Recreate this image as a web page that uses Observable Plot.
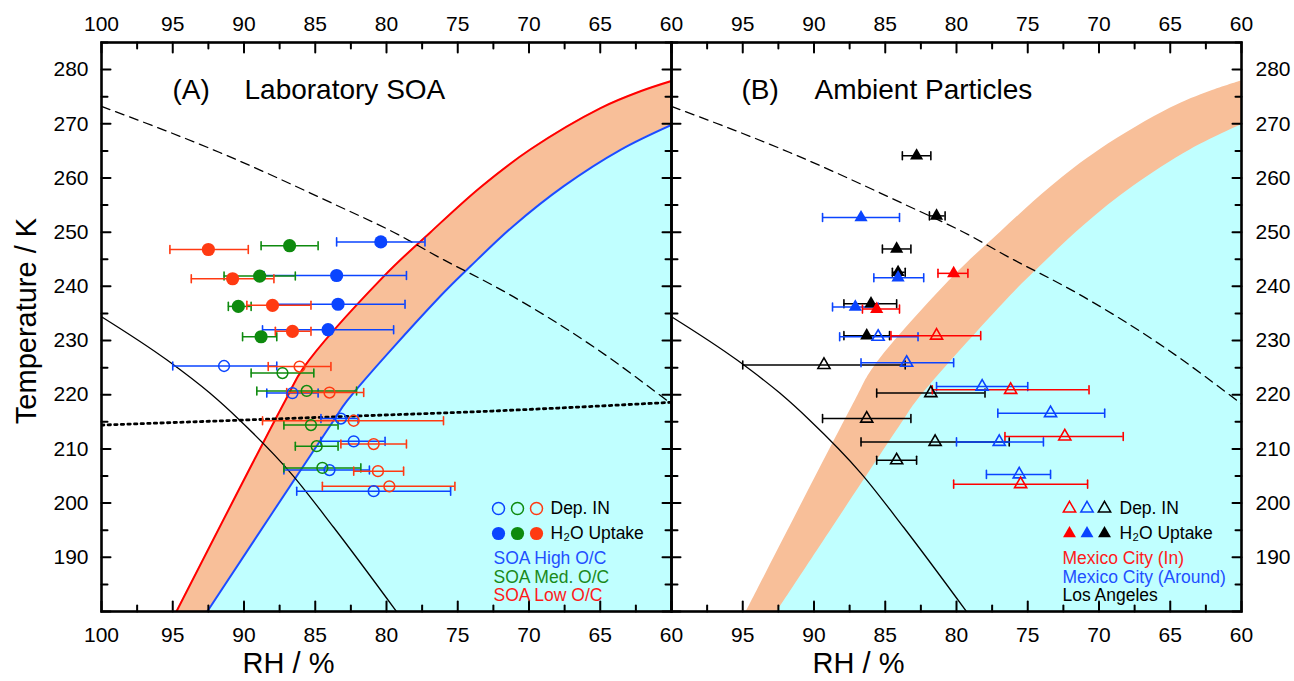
<!DOCTYPE html>
<html><head><meta charset="utf-8">
<script src="https://cdn.jsdelivr.net/npm/d3@7"></script>
<script src="https://cdn.jsdelivr.net/npm/@observablehq/plot@0.6"></script>
<style>
html,body{margin:0;padding:0;background:#fff;}
#chart{width:1294px;height:681px;}
</style></head><body><div id="chart"></div>
<script>
// ---------- curves: [RH %, T K] ----------
const redCurve   = [[94.74,180],[87.09,219.0],[85.82,225.0],[80.21,241.8],[76.91,250.0],[73.40,258.3],[69.89,265.3],[64.98,272.9],[62.18,276.0],[60.0,277.9]];
const blueCurve  = [[92.58,180],[83.70,215.3],[82.76,218.9],[76.33,237.9],[74.11,243.7],[71.07,251.2],[67.56,258.5],[63.58,265.2],[60.0,269.8]];
const iceSatCurve = [[100,273.2],[91.7,264.7],[83.7,255.2],[79.0,249.3],[76.9,246.2],[71.1,238.1],[65.5,228.9],[60,218.3]];
const homFreezeCurve = [[100,234.4],[95.4,226.4],[92.4,220.3],[90.3,215.3],[86.7,205.5],[83.7,195.5],[79.3,180]];
const dottedCurve = [[100,214.4],[81.8,216.1],[73.4,216.9],[60,218.6]];

// ---------- Panel A: laboratory SOA  [RH, T, errLeft(RH), errRight(RH)] ----------
const soaHighUptake = [[80.4,248.2,83.5,77.3],[83.5,242.0,88.6,78.6],[83.4,236.7,88.0,78.7],[84.1,232.0,88.7,79.5]];
const soaMedUptake  = [[86.8,247.5,88.8,84.8],[88.9,241.9,91.4,86.4],[90.4,236.3,91.1,89.5],[88.8,230.7,90.1,87.7]];
const soaLowUptake  = [[92.5,246.8,95.2,89.7],[90.8,241.4,93.7,87.9],[88.0,236.5,89.8,85.3],[86.6,231.7,87.8,85.3]];
const soaHighDepIN  = [[91.4,225.3,95.0,87.7],[86.6,220.3,88.4,84.8],[83.2,215.6,84.6,82.0],[82.3,211.4,84.6,80.1],[84.0,206.1,87.2,81.2],[80.9,202.2,86.3,75.5]];
const soaMedDepIN   = [[87.3,224.0,89.5,85.1],[85.6,220.7,89.1,82.1],[85.3,214.4,87.2,83.4],[84.9,210.5,86.4,83.4],[84.5,206.5,87.2,81.8]];
const soaLowDepIN   = [[86.1,225.2,88.3,83.9],[84.0,220.4,87.0,81.6],[82.3,215.2,88.7,76.0],[80.9,210.9,83.2,78.6],[80.6,205.9,82.3,78.8],[79.8,203.1,84.5,75.2]];

// ---------- Panel B: ambient particles ----------
const laUptake      = [[82.8,264.1,83.8,81.8],[81.4,253.0,81.9,80.8],[84.2,246.9,85.2,83.2],[84.1,242.6,84.5,83.6],[86.0,236.8,87.9,84.2],[86.3,230.9,87.9,84.7]];
const mcAroundUptake= [[86.7,252.7,89.4,84.0],[84.1,241.6,85.8,82.3],[87.1,236.2,88.7,85.5]];
const mcInUptake    = [[80.2,242.4,81.3,79.2],[85.6,235.8,86.6,84.0]];
const laDepIN       = [[89.3,225.5,95.0,83.6],[81.8,220.3,85.6,78.0],[86.3,215.6,89.4,83.2],[81.5,211.3,86.7,76.3],[84.2,207.9,85.6,82.8]];
const mcAroundDepIN = [[85.5,230.7,88.2,82.7],[83.5,225.9,86.7,80.2],[78.2,221.5,81.4,75.0],[73.4,216.6,77.1,69.6],[77.0,211.3,80.0,73.9],[75.6,205.3,77.9,73.4]];
const mcInDepIN     = [[81.4,230.9,84.6,78.3],[76.2,220.9,81.7,70.7],[72.4,212.3,76.6,68.3],[75.5,203.5,80.2,70.8]];

// ---------- axes ----------
const xDomain = [100, 60];
const yDomain = [180, 285];
const xMajorTicks = [100,95,90,85,80,75,70,65,60];
const xMinorTicks = [97.5,92.5,87.5,82.5,77.5,72.5,67.5,62.5];
const yMajorTicks = [180,190,200,210,220,230,240,250,260,270,280];
const yMinorTicks = [185,195,205,215,225,235,245,255,265,275,285];
const xLabelsA = [100,95,90,85,80,75,70,65,60];
const xLabelsB = [95,90,85,80,75,70,65,60];
const yLabels = [190,200,210,220,230,240,250,260,270,280];
const panels = ["A","B"];

// ---------- styles ----------
const FONT = "Liberation Sans, Arial, Helvetica, sans-serif";
const cBlue = "#0a44ff", cGreen = "#0e8a0e", cRedOrange = "#ff3a12", cRed = "#ff0000", cBlack = "#000000";
const salmon = "#f8bf99", cyan = "#c0ffff";

const pts = a => a.map(([RH,T]) => ({RH,T}));
const rows = (a, panel) => a.map(([RH,T,lo,hi]) => ({RH,T,lo,hi,panel}));
const tickShape = {draw(ctx, l) { ctx.moveTo(0,0); ctx.lineTo(0,-l); }};

const seriesA = [
  {color: cBlue, uptake: soaHighUptake, dep: soaHighDepIN},
  {color: cGreen, uptake: soaMedUptake, dep: soaMedDepIN},
  {color: cRedOrange, uptake: soaLowUptake, dep: soaLowDepIN}
];
const seriesB = [
  {color: cBlack, uptake: laUptake, dep: laDepIN},
  {color: cBlue, uptake: mcAroundUptake, dep: mcAroundDepIN},
  {color: cRed, uptake: mcInUptake, dep: mcInDepIN}
];

const marks = [];
// regions
marks.push(Plot.areaX(pts(redCurve), {y: "T", x1: "RH", x2: () => xDomain[1], fill: salmon, curve: "catmull-rom", clip: true}));
marks.push(Plot.areaX(pts(blueCurve), {y: "T", x1: "RH", x2: () => xDomain[1], fill: cyan, curve: "catmull-rom", clip: true}));
// curves
marks.push(Plot.line(pts(redCurve).map(d => ({...d, panel: "A"})), {x: "RH", y: "T", fx: "panel", stroke: cRed, strokeWidth: 2, curve: "catmull-rom", clip: true}));
marks.push(Plot.line(pts(blueCurve).map(d => ({...d, panel: "A"})), {x: "RH", y: "T", fx: "panel", stroke: "#1e4bff", strokeWidth: 2, curve: "catmull-rom", clip: true}));
marks.push(Plot.line(pts(iceSatCurve), {x: "RH", y: "T", stroke: "#000", strokeWidth: 1.3, strokeDasharray: "9,6", curve: "monotone-x", clip: true}));
marks.push(Plot.line(pts(homFreezeCurve), {x: "RH", y: "T", stroke: "#000", strokeWidth: 1.3, curve: "monotone-x", clip: true}));
marks.push(Plot.line(pts(dottedCurve).map(d => ({...d, panel: "A"})), {x: "RH", y: "T", fx: "panel", stroke: "#000", strokeWidth: 2.8, strokeDasharray: "2.4,4.2", curve: "monotone-x", clip: true}));

// error bars
function errorBars(list, panel) {
  for (const s of list) {
    for (const arr of [s.uptake, s.dep]) {
      const data = rows(arr, panel);
      marks.push(Plot.ruleY(data, {y: "T", x1: "lo", x2: "hi", fx: "panel", stroke: s.color, strokeWidth: 1.5}));
      for (const k of ["lo","hi"]) {
        marks.push(Plot.vector(data, {x: k, y: "T", fx: "panel", length: 8, rotate: 0, anchor: "middle", shape: tickShape, stroke: s.color, strokeWidth: 1.6}));
      }
    }
  }
}
errorBars(seriesA, "A");
errorBars(seriesB, "B");
// markers
for (const s of seriesA) {
  marks.push(Plot.dot(rows(s.dep, "A"), {x: "RH", y: "T", fx: "panel", r: 5.4, stroke: s.color, strokeWidth: 1.5, fill: "none"}));
  marks.push(Plot.dot(rows(s.uptake, "A"), {x: "RH", y: "T", fx: "panel", r: 6.6, fill: s.color, stroke: "none"}));
}
for (const s of seriesB) {
  marks.push(Plot.dot(rows(s.dep, "B"), {x: "RH", y: "T", fx: "panel", r: 4.5, symbol: "triangle", stroke: s.color, strokeWidth: 1.6, fill: "none"}));
  marks.push(Plot.dot(rows(s.uptake, "B"), {x: "RH", y: "T", fx: "panel", r: 4.9, symbol: "triangle", fill: s.color, stroke: "none"}));
}

// ---------- legends ----------
const one = p => [{panel: p}];
function legendText(panel, text, color, dx, dy, size = 17.5) {
  marks.push(Plot.text(one(panel), {fx: "panel", text: () => text, frameAnchor: "bottom-right", dx, dy, textAnchor: "start", lineAnchor: "middle", fill: color, fontSize: size, fontFamily: FONT}));
}
[cBlue, cGreen, cRedOrange].forEach((c, i) => {
  marks.push(Plot.dot(one("A"), {fx: "panel", frameAnchor: "bottom-right", dx: -173 + 19 * i, dy: -103, r: 6, stroke: c, strokeWidth: 1.5, fill: "none"}));
  marks.push(Plot.dot(one("A"), {fx: "panel", frameAnchor: "bottom-right", dx: -173 + 19 * i, dy: -78, r: 6.6, fill: c}));
});
legendText("A", "Dep. IN", "#000", -121, -103);
legendText("A", "H\u2082O Uptake", "#000", -121, -78);
legendText("A", "SOA High O/C", "#1f4fff", -178, -53);
legendText("A", "SOA Med. O/C", "#1a8a1a", -178, -34);
legendText("A", "SOA Low O/C", "#ff1a1a", -178, -16);
[cRed, cBlue, cBlack].forEach((c, i) => {
  marks.push(Plot.dot(one("B"), {fx: "panel", frameAnchor: "bottom-right", dx: -172 + 17.5 * i, dy: -103, r: 4.6, symbol: "triangle", stroke: c, strokeWidth: 1.5, fill: "none"}));
  marks.push(Plot.dot(one("B"), {fx: "panel", frameAnchor: "bottom-right", dx: -172 + 17.5 * i, dy: -78, r: 4.8, symbol: "triangle", fill: c}));
});
legendText("B", "Dep. IN", "#000", -122, -103);
legendText("B", "H\u2082O Uptake", "#000", -122, -78);
legendText("B", "Mexico City (In)", "#ff1a1a", -179, -53);
legendText("B", "Mexico City (Around)", "#1f4fff", -179, -34);
legendText("B", "Los Angeles", "#000", -179, -16);

// ---------- titles ----------
function titleText(panel, text, dx) {
  marks.push(Plot.text(one(panel), {fx: "panel", text: () => text, frameAnchor: "top-left", dx, dy: 56, textAnchor: "start", lineAnchor: "bottom", fontSize: 28, fontFamily: FONT, fill: "#000"}));
}
titleText("A", "(A)", 71); titleText("A", "Laboratory SOA", 143);
titleText("B", "(B)", 70); titleText("B", "Ambient Particles", 143);

// ---------- frame, ticks and tick labels ----------
marks.push(Plot.frame({stroke: "#000", strokeWidth: 2.6}));
const byPanel = (vals) => panels.flatMap(p => vals.map(v => ({panel: p, v})));
const tickOpts = {fx: "panel", shape: tickShape, anchor: "start", stroke: "#000", strokeWidth: 2};
for (const [vals, len] of [[xMajorTicks, 10], [xMinorTicks, 6]]) {
  marks.push(Plot.vector(byPanel(vals), {...tickOpts, x: "v", frameAnchor: "bottom", rotate: 0, length: len}));
  marks.push(Plot.vector(byPanel(vals), {...tickOpts, x: "v", frameAnchor: "top", rotate: 180, length: len}));
}
for (const [vals, len] of [[yMajorTicks, 9], [yMinorTicks, 6]]) {
  marks.push(Plot.vector(byPanel(vals), {...tickOpts, y: "v", frameAnchor: "left", rotate: 90, length: len}));
  marks.push(Plot.vector(byPanel(vals), {...tickOpts, y: "v", frameAnchor: "right", rotate: -90, length: len}));
}
const xLab = [...xLabelsA.map(v => ({panel: "A", v})), ...xLabelsB.map(v => ({panel: "B", v}))];
const labOpts = {fx: "panel", text: d => String(d.v), fontSize: 21, fontFamily: FONT, fill: "#000"};
marks.push(Plot.text(xLab, {...labOpts, x: "v", frameAnchor: "bottom", lineAnchor: "top", dy: 16}));
marks.push(Plot.text(xLab, {...labOpts, x: "v", frameAnchor: "top", lineAnchor: "bottom", dy: -12}));
marks.push(Plot.text(yLabels.map(v => ({panel: "A", v})), {...labOpts, y: "v", frameAnchor: "left", textAnchor: "end", lineAnchor: "middle", dx: -13}));
marks.push(Plot.text(yLabels.map(v => ({panel: "B", v})), {...labOpts, y: "v", frameAnchor: "right", textAnchor: "start", lineAnchor: "middle", dx: 14}));

// axis titles
for (const p of panels) {
  marks.push(Plot.text(one(p), {fx: "panel", text: () => "RH / %", frameAnchor: "bottom-left", dx: 187, dy: 52, textAnchor: "middle", lineAnchor: "middle", fontSize: 29, fontFamily: FONT, fill: "#000"}));
}
marks.push(Plot.text(one("A"), {fx: "panel", text: () => "Temperature / K", frameAnchor: "left", dx: -66, dy: -6, rotate: -90, textAnchor: "middle", lineAnchor: "bottom", fontSize: 29, fontFamily: FONT, fill: "#000"}));

const chart = Plot.plot({
  width: 1294, height: 681,
  marginLeft: 101, marginRight: 53, marginTop: 42, marginBottom: 70,
  style: {fontFamily: FONT, background: "#fff", overflow: "visible"},
  fx: {domain: panels, padding: 0, axis: null, label: null},
  x: {domain: xDomain, axis: null},
  y: {domain: yDomain, axis: null},
  marks
});
document.getElementById("chart").appendChild(chart);
</script>
</body></html>
